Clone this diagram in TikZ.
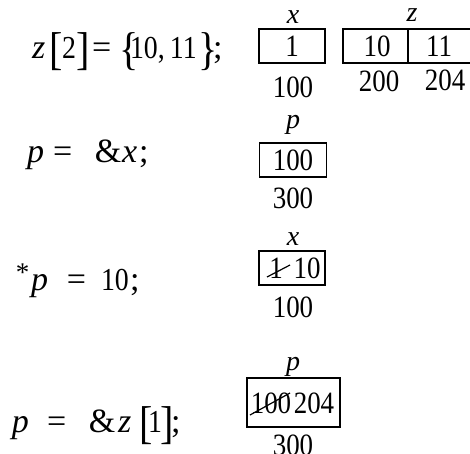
\documentclass[tikz,border=0pt]{standalone}
\usepackage{fontspec}
\setmainfont{Liberation Serif}
\newfontfamily\dig[FakeStretch=0.87]{Liberation Serif}
% a token set in a box of a fixed advance width
\newcommand\tk[2]{\makebox[#1pt][l]{#2}}
\newcommand\dg[1]{{\fontsize{32}{32}\selectfont\dig #1}}
\newcommand\bg[1]{\raisebox{-6pt}{\fontsize{46}{46}\selectfont\dig #1}}
\begin{document}
\begin{tikzpicture}[x=1pt,y=-1pt,
  every node/.style={inner sep=0pt, outer sep=0pt},
  txt/.style={anchor=base, font=\fontsize{31}{31}\selectfont\dig},
  lbl/.style={anchor=base, font=\fontsize{28}{28}\selectfont\itshape},
  expr/.style={anchor=base west, font=\fontsize{34}{34}\selectfont},
  cell/.style={draw, line width=1.7pt},
  strike/.style={line width=1.2pt}]
\useasboundingbox (0,0) rectangle (470,453);

% ---- row 1 : z[2] = {10,11}; ----
\node[expr] (e1) at (32,58) {\tk{17}{\textit{z}}\tk{13}{\bg{[}}\tk{14}{\dg{2}}\tk{16}{\bg{]}}\tk{27}{=}\tk{11}{\bg{\{}}\tk{40}{\dg{10,}}\tk{28}{\dg{11}}\tk{15}{\bg{\}}};};

\node[cell, minimum width=66pt, minimum height=34pt] (bx1) at (292,46) {};
\node[txt] (vx1) at (292,56) {1};
\node[lbl] (lx1) at (293,23) {x};
\node[txt] (ax1) at (293,97) {100};

\draw[cell] (472,29) -- (343,29) -- (343,63) -- (472,63);
\draw[cell] (408,29) -- (408,63);
\node[txt] (vz0) at (377,56) {10};
\node[txt] (vz1) at (439,56) {11};
\node[lbl] (lz) at (412,21) {z};
\node[txt] (az0) at (379,91) {200};
\node[txt] (az1) at (445,90) {204};

% ---- row 2 : p = &x; ----
\node[expr] (e2) at (27,162) {\tk{26}{\textit{p}}\tk{42}{=}\tk{27}{\&}\tk{17}{\textit{x}};};

\node[cell, minimum width=67pt, minimum height=34pt] (bp1) at (293,160) {};
\node[txt] (vp1) at (293,170) {100};
\node[lbl] (lp1) at (293,128) {p};
\node[txt] (ap1) at (293,208) {300};

% ---- row 3 : *p = 10; ----
\node[expr] (e3) at (16,290) {\tk{15}{\raisebox{9pt}{\fontsize{27}{27}\selectfont *}}\tk{36}{\textit{p}}\tk{34}{=}\tk{29}{\dg{10}};};

\node[cell, minimum width=66pt, minimum height=34pt] (bx2) at (292,268) {};
\node[txt] (old1) at (276,278) {1};
\node[txt] (new1) at (307,278) {10};
\node[lbl] (lx2) at (293,245) {x};
\node[txt] (ax2) at (293,317) {100};
\coordinate (s1a) at (267,277);
\coordinate (s1b) at (290,265);
\draw[strike] (s1a) -- (s1b);

% ---- row 4 : p = &z[1]; ----
\node[expr] (e4) at (12,432) {\tk{35}{\textit{p}}\tk{42}{=}\tk{29}{\&}\tk{21}{\textit{z}}\tk{9}{\bg{[}}\tk{12}{\dg{1}}\tk{11}{\bg{]}};};

\node[cell, minimum width=93pt, minimum height=49pt] (bp2) at (293.5,402.5) {};
\node[txt] (old2) at (271,413) {100};
\node[txt] (new2) at (314,413) {204};
\node[lbl] (lp2) at (293,370) {p};
\node[txt] (ap2) at (293,455) {300};
\coordinate (s2a) at (250,415);
\coordinate (s2b) at (290,393);
\draw[strike] (s2a) -- (s2b);
\end{tikzpicture}
\end{document}
